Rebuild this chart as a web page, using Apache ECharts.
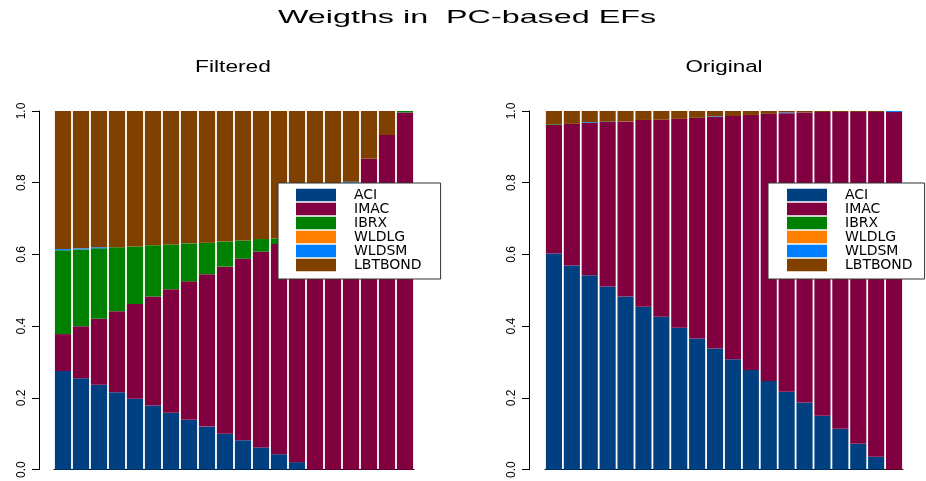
<!DOCTYPE html>
<html>
<head>
<meta charset="utf-8">
<title>Weigths in PC-based EFs</title>
<script src="https://cdn.jsdelivr.net/npm/echarts@6/dist/echarts.min.js"></script>
<style>
  html, body { margin: 0; padding: 0; background: #ffffff; }
  #chart { width: 926px; height: 481px; }
</style>
</head>
<body>
<div id="chart"></div>
<script>
// Portfolios along each efficient frontier (x axis, unlabelled)
const portfolios = ['1','2','3','4','5','6','7','8','9','10',
                    '11','12','13','14','15','16','17','18','19','20'];

const assetNames = ['ACI', 'IMAC', 'IBRX', 'WLDLG', 'WLDSM', 'LBTBOND'];
const assetColors = ['#004080', '#800040', '#008000', '#FF8000', '#0080FF', '#804000'];

const yTickLabels = ['0.0', '0.2', '0.4', '0.6', '0.8', '1.0'];

// Filtered covariance: weights per portfolio
const filteredACI     = [0.275,0.255,0.237,0.216,0.198,0.179,0.159,0.139,0.120,0.100,0.082,0.062,0.043,0.021,0,0,0,0,0,0];
const filteredIMAC    = [0.103,0.145,0.184,0.226,0.264,0.304,0.344,0.386,0.425,0.466,0.506,0.546,0.586,0.628,0.672,0.735,0.800,0.867,0.933,0.996];
const filteredIBRX    = [0.234,0.214,0.196,0.178,0.160,0.143,0.125,0.106,0.088,0.070,0.051,0.035,0.016,0.003,0,0,0,0,0,0.004];
const filteredWLDLG   = [0,0,0,0,0,0,0,0,0,0,0,0,0,0,0,0,0,0,0,0];
const filteredWLDSM   = [0.003,0.003,0.003,0,0,0,0,0,0,0,0,0,0,0,0,0,0.003,0,0,0];
const filteredLBTBOND = [0.385,0.383,0.380,0.380,0.378,0.374,0.372,0.369,0.367,0.364,0.361,0.357,0.355,0.348,0.328,0.265,0.197,0.133,0.067,0];

// Original covariance: weights per portfolio
const originalACI     = [0.603,0.569,0.542,0.511,0.483,0.454,0.426,0.396,0.366,0.338,0.308,0.278,0.247,0.217,0.187,0.150,0.114,0.072,0.036,0];
const originalIMAC    = [0.358,0.395,0.425,0.458,0.488,0.521,0.550,0.582,0.615,0.645,0.678,0.711,0.745,0.777,0.809,0.847,0.883,0.925,0.961,0.997];
const originalIBRX    = [0.002,0,0,0,0,0,0,0,0,0,0,0,0,0,0,0,0,0,0,0];
const originalWLDLG   = [0,0,0,0,0,0,0,0,0,0,0,0,0,0,0,0,0,0,0,0];
const originalWLDSM   = [0,0,0.002,0.001,0,0,0,0,0,0.002,0,0,0,0.002,0,0,0,0,0,0.003];
const originalLBTBOND = [0.037,0.036,0.031,0.030,0.029,0.025,0.024,0.022,0.019,0.015,0.014,0.011,0.008,0.004,0.004,0.003,0.003,0.003,0.003,0];

const filteredWeights = [filteredACI, filteredIMAC, filteredIBRX, filteredWLDLG, filteredWLDSM, filteredLBTBOND];
const originalWeights = [originalACI, originalIMAC, originalIBRX, originalWLDLG, originalWLDSM, originalLBTBOND];

const chart = echarts.init(document.getElementById('chart'));

function stackedSeries(weights, axisIndex, stackId) {
  return weights.map((values, i) => ({
    name: assetNames[i],
    type: 'bar',
    stack: stackId,
    xAxisIndex: axisIndex,
    yAxisIndex: axisIndex,
    barCategoryGap: '10%',
    itemStyle: { color: assetColors[i] },
    emphasis: { disabled: true },
    data: values
  }));
}

function valueAxis(gridIndex, offset) {
  return {
    type: 'value',
    gridIndex: gridIndex,
    min: 0,
    max: 1,
    interval: 0.2,
    offset: offset,
    axisLine: { show: true, lineStyle: { color: '#000', width: 1 } },
    axisTick: { show: true, length: 7, lineStyle: { color: '#000', width: 1 } },
    splitLine: { show: false },
    axisLabel: {
      rotate: 90,
      margin: 11,
      fontFamily: 'Liberation Sans',
      fontSize: 12,
      color: '#000',
      formatter: (v) => yTickLabels[Math.round(v / 0.2)]
    }
  };
}

function categoryAxis(gridIndex) {
  return {
    type: 'category',
    gridIndex: gridIndex,
    data: portfolios,
    axisLine: { show: true, lineStyle: { color: '#000', width: 1 } },
    axisTick: { show: false },
    axisLabel: { show: false }
  };
}

function legendBox(left, padding) {
  return {
    orient: 'vertical',
    left: left,
    top: 183,
    padding: padding,
    itemGap: 0,
    itemWidth: 40,
    itemHeight: 12.5,
    icon: 'rect',
    selectedMode: false,
    backgroundColor: '#ffffff',
    borderColor: '#333333',
    borderWidth: 1,
    borderRadius: 0,
    z: 10,
    textStyle: {
      fontFamily: 'DejaVu Sans',
      fontSize: 14,
      lineHeight: 12.5,
      color: '#000',
      padding: [0, 0, 0, 13]
    },
    data: assetNames
  };
}

function headingText(text, cx, cy, size, stretch) {
  return {
    type: 'text',
    x: cx,
    y: cy,
    scaleX: stretch,
    style: {
      text: text,
      fill: '#000',
      font: size + 'px "Liberation Sans"',
      textAlign: 'center',
      textVerticalAlign: 'middle'
    }
  };
}

chart.setOption({
  animation: false,
  backgroundColor: '#ffffff',
  graphic: [
    headingText('Weigths in  PC-based EFs', 467, 18, 19, 1.7),
    headingText('Filtered', 233, 68, 16, 1.42),
    headingText('Original', 724, 68, 16, 1.4)
  ],
  grid: [
    { left: 54, top: 111, width: 360, height: 360 },
    { left: 545, top: 111, width: 358, height: 360 }
  ],
  xAxis: [categoryAxis(0), categoryAxis(1)],
  yAxis: [valueAxis(0, 15), valueAxis(1, 16)],
  legend: [
    legendBox(278, [5, 19, 7, 18]),
    legendBox(768, [5, 12, 7, 19])
  ],
  series: stackedSeries(filteredWeights, 0, 'filtered')
    .concat(stackedSeries(originalWeights, 1, 'original'))
});
</script>
</body>
</html>
